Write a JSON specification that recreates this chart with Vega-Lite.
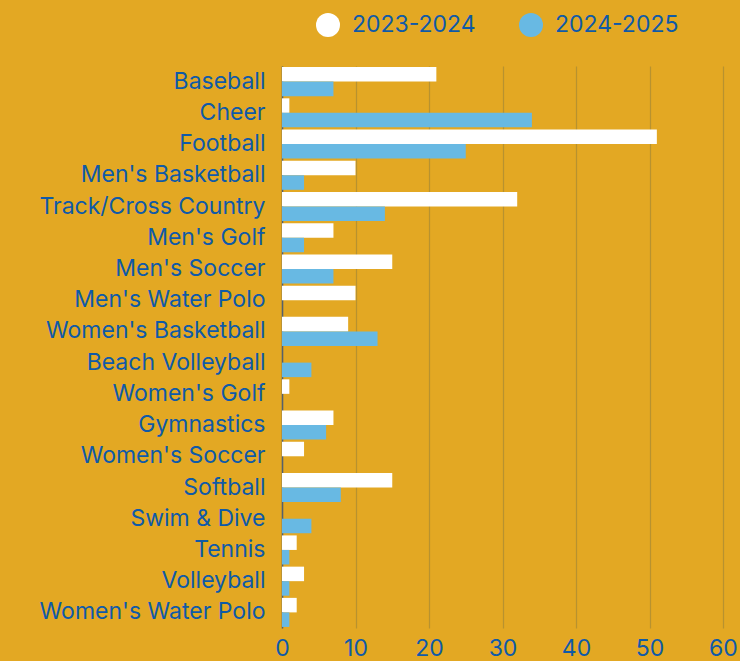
{
  "$schema": "https://vega.github.io/schema/vega-lite/v6.json",
  "width": 441,
  "height": 562,
  "autosize": {"type": "none"},
  "padding": {"left": 282, "top": 66, "right": 17, "bottom": 33},
  "background": "#E3A823",
  "config": {"view": {"stroke": null}, "font": "Inter"},
  "data": {"values": [
    {"sport": "Baseball", "season": "2023-2024", "value": 21},
    {"sport": "Baseball", "season": "2024-2025", "value": 7},
    {"sport": "Cheer", "season": "2023-2024", "value": 1},
    {"sport": "Cheer", "season": "2024-2025", "value": 34},
    {"sport": "Football", "season": "2023-2024", "value": 51},
    {"sport": "Football", "season": "2024-2025", "value": 25},
    {"sport": "Men's Basketball", "season": "2023-2024", "value": 10},
    {"sport": "Men's Basketball", "season": "2024-2025", "value": 3},
    {"sport": "Track/Cross Country", "season": "2023-2024", "value": 32},
    {"sport": "Track/Cross Country", "season": "2024-2025", "value": 14},
    {"sport": "Men's Golf", "season": "2023-2024", "value": 7},
    {"sport": "Men's Golf", "season": "2024-2025", "value": 3},
    {"sport": "Men's Soccer", "season": "2023-2024", "value": 15},
    {"sport": "Men's Soccer", "season": "2024-2025", "value": 7},
    {"sport": "Men's Water Polo", "season": "2023-2024", "value": 10},
    {"sport": "Men's Water Polo", "season": "2024-2025", "value": 0},
    {"sport": "Women's Basketball", "season": "2023-2024", "value": 9},
    {"sport": "Women's Basketball", "season": "2024-2025", "value": 13},
    {"sport": "Beach Volleyball", "season": "2023-2024", "value": 0},
    {"sport": "Beach Volleyball", "season": "2024-2025", "value": 4},
    {"sport": "Women's Golf", "season": "2023-2024", "value": 1},
    {"sport": "Women's Golf", "season": "2024-2025", "value": 0},
    {"sport": "Gymnastics", "season": "2023-2024", "value": 7},
    {"sport": "Gymnastics", "season": "2024-2025", "value": 6},
    {"sport": "Women's Soccer", "season": "2023-2024", "value": 3},
    {"sport": "Women's Soccer", "season": "2024-2025", "value": 0},
    {"sport": "Softball", "season": "2023-2024", "value": 15},
    {"sport": "Softball", "season": "2024-2025", "value": 8},
    {"sport": "Swim & Dive", "season": "2023-2024", "value": 0},
    {"sport": "Swim & Dive", "season": "2024-2025", "value": 4},
    {"sport": "Tennis", "season": "2023-2024", "value": 2},
    {"sport": "Tennis", "season": "2024-2025", "value": 1},
    {"sport": "Volleyball", "season": "2023-2024", "value": 3},
    {"sport": "Volleyball", "season": "2024-2025", "value": 1},
    {"sport": "Women's Water Polo", "season": "2023-2024", "value": 2},
    {"sport": "Women's Water Polo", "season": "2024-2025", "value": 1}
  ]},
  "mark": {"type": "bar"},
  "encoding": {
    "y": {
      "field": "sport", "type": "nominal", "sort": null,
      "scale": {"paddingInner": 0.07, "paddingOuter": 0.035},
      "axis": {"title": null, "labelFontSize": 23, "labelColor": "#0F5AA8", "labelPadding": 17, "ticks": false, "domainColor": "#56606B", "domainWidth": 1.5, "labelLimit": 320}
    },
    "yOffset": {"field": "season", "sort": ["2023-2024", "2024-2025"]},
    "x": {
      "field": "value", "type": "quantitative",
      "scale": {"domain": [0, 60]},
      "axis": {"title": null, "values": [0, 10, 20, 30, 40, 50, 60], "grid": true, "gridColor": "#B8922F", "gridWidth": 1.2, "domain": false, "ticks": false, "labelFlush": false, "labelFontSize": 23, "labelColor": "#0F5AA8", "labelPadding": 9}
    },
    "color": {
      "field": "season", "type": "nominal",
      "scale": {"domain": ["2023-2024", "2024-2025"], "range": ["#FFFFFF", "#68B9E3"]},
      "legend": {"title": null, "orient": "none", "legendX": 34, "legendY": -53, "direction": "horizontal", "symbolType": "circle", "symbolSize": 576, "symbolStrokeWidth": 0, "labelFontSize": 23, "labelColor": "#0F5AA8", "labelOffset": 12, "columnPadding": 43}
    }
  }
}
